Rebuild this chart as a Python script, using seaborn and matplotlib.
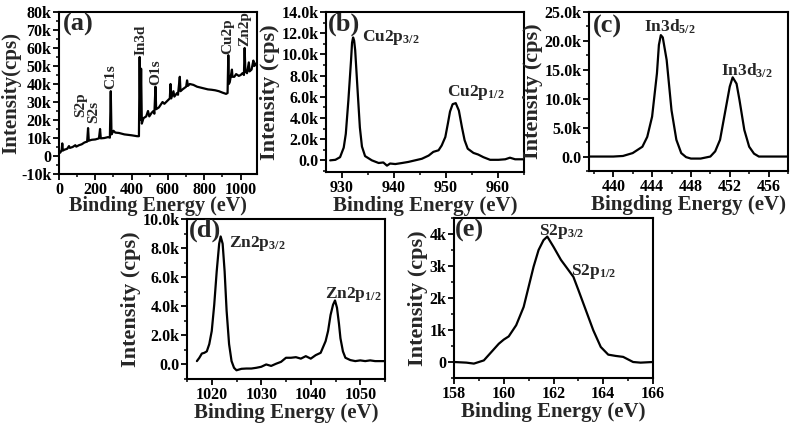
import matplotlib
matplotlib.use('Agg')
import matplotlib.pyplot as plt
from matplotlib.ticker import MultipleLocator, FuncFormatter
import seaborn as sns

# ---- data (intensity in thousands of cps) ----
survey_ev = [0, 8, 15, 18, 21, 30, 45, 55, 60, 75, 90, 95, 110, 125, 140, 155, 160, 164,
             180, 200, 220, 226, 230, 250, 270, 280, 285, 289, 300, 310, 330, 360, 400,
             430, 440, 444, 448, 452, 456, 465, 480, 490, 497, 510, 520, 525, 531, 535,
             550, 570, 580, 600, 610, 614, 618, 630, 635, 650, 655, 665, 669, 680, 700,
             705, 710, 720, 740, 760, 780, 800, 820, 840, 860, 880, 900, 920, 928, 932,
             935, 940, 952, 955, 965, 975, 990, 1000, 1010, 1018, 1022, 1026, 1035, 1045,
             1049, 1060, 1070, 1075, 1085, 1090]
survey_k = [1.5, 2.0, 3.5, 7.0, 3.0, 3.5, 4.0, 5.5, 4.5, 5.0, 6.0, 5.2, 6.0, 6.5, 7.5, 8.0, 15.5, 8.5,
            9.0, 9.2, 9.8, 15.0, 9.8, 10.0, 10.5, 10.2, 36.0, 12.0, 14.0, 13.0, 12.8, 12.0, 11.5,
            11.0, 11.0, 55.0, 20.0, 48.5, 18.0, 21.0, 22.0, 25.0, 22.0, 24.0, 25.0, 23.5, 38.5, 26.0,
            27.0, 30.0, 29.0, 31.0, 32.0, 40.0, 32.0, 36.0, 33.0, 35.0, 34.0, 44.0, 36.0, 37.0, 38.5,
            42.0, 39.0, 40.0, 39.5, 38.5, 38.0, 37.5, 37.0, 36.8, 36.5, 36.0, 35.2, 34.5, 35.0, 56.0,
            40.0, 41.0, 48.0, 44.0, 44.0, 45.5, 44.5, 45.0, 46.0, 45.0, 60.0, 47.0, 46.0, 52.0,
            47.0, 48.0, 53.0, 50.0, 51.5, 50.0]

cu_ev = [927.8, 928.8, 929.7, 930.4, 930.8, 931.3, 931.8, 932.0, 932.2, 932.4, 932.6, 933.1, 933.5,
         933.9, 934.5, 935.8, 937.1, 938.0, 938.7, 939.3, 940.3, 941.6, 942.8, 944.1, 945.4, 946.7,
         947.6, 948.6, 949.2, 949.9, 950.4, 950.8, 951.3, 951.9, 952.5, 953.1, 953.6, 954.2, 955.3,
         956.2, 957.2, 958.5, 960.1, 961.4, 962.3, 963.3, 964.9]
cu_k = [0.0, 0.05, 0.3, 1.2, 2.5, 5.7, 9.4, 11.1, 11.6, 11.3, 10.4, 6.3, 3.1,
        1.3, 0.4, 0.0, -0.25, -0.2, -0.5, -0.3, -0.35, -0.25, -0.15, 0.0, 0.15, 0.45,
        0.8, 0.95, 1.4, 2.2, 3.5, 4.6, 5.3, 5.4, 4.7, 3.1, 1.9, 1.1, 0.7,
        0.55, 0.3, 0.05, 0.05, 0.1, 0.25, 0.1, 0.1]

in_ev = [437.5, 440, 441, 442, 443, 443.5, 444, 444.5, 444.7, 444.9, 445.1, 445.5, 446, 446.5,
         447, 447.5, 448, 449, 450, 450.5, 451, 451.5, 452, 452.3, 452.7, 453, 453.5, 454,
         454.5, 455, 458]
in_k = [0, 0, 0.1, 0.6, 1.7, 3.4, 6.9, 14.4, 19.3, 21.0, 20.6, 16.7, 8.0, 2.9,
        0.6, -0.1, -0.35, -0.35, 0, 0.9, 2.9, 7.5, 12.1, 13.7, 12.6, 9.8, 4.6, 1.7,
        0.5, 0, 0]

zn_ev = [1017, 1017.5, 1018, 1018.5, 1019, 1019.5, 1020, 1020.5, 1021, 1021.5, 1021.8, 1022.2,
         1022.6, 1023, 1023.5, 1024, 1024.5, 1025, 1026, 1027, 1028, 1029, 1030, 1031, 1032,
         1033, 1034, 1035, 1036, 1037, 1038, 1039, 1040, 1041, 1042, 1043, 1043.5, 1044,
         1044.5, 1044.9, 1045.3, 1045.7, 1046, 1046.5, 1047, 1048, 1049, 1050, 1051, 1052,
         1053, 1055]
zn_k = [0.23, 0.46, 0.75, 0.8, 0.9, 1.4, 2.3, 4.1, 6.4, 8.3, 8.8, 8.3,
        6.4, 3.7, 1.4, 0.23, -0.23, -0.4, -0.3, -0.28, -0.28, -0.23, -0.16, 0.0, -0.1,
        0.05, 0.18, 0.46, 0.46, 0.5, 0.4, 0.57, 0.4, 0.64, 0.8, 1.6, 2.3, 3.4,
        4.1, 4.4, 3.9, 2.8, 1.8, 0.9, 0.46, 0.3, 0.23, 0.28, 0.23, 0.28,
        0.23, 0.23]

s_ev = [158, 158.5, 158.8, 159.2, 159.5, 159.8, 160, 160.2, 160.5, 160.8, 161, 161.2, 161.4,
        161.6, 161.75, 162, 162.3, 162.5, 162.8, 163, 163.3, 163.6, 163.9, 164.2, 164.5,
        164.8, 165.2, 165.5, 166]
s_k = [0, -0.02, -0.05, 0.05, 0.31, 0.57, 0.7, 0.8, 1.15, 1.72, 2.35, 2.98, 3.5,
       3.81, 3.92, 3.6, 3.19, 2.98, 2.66, 2.25, 1.62, 0.99, 0.47, 0.23, 0.19,
       0.16, 0.0, -0.02, 0]

W, H = 792, 426
FONT = 'Liberation Serif'

sns.set_style('ticks')
plt.rcParams.update({
    'font.family': FONT,
    'font.weight': 'bold',
    'axes.labelweight': 'bold',
    'mathtext.fontset': 'custom',
    'mathtext.rm': FONT + ':bold',
    'mathtext.bf': FONT + ':bold',
    'mathtext.default': 'rm',
    'axes.linewidth': 1.5,
    'axes.edgecolor': 'black',
    'xtick.color': 'black',
    'ytick.color': 'black',
})


def fmt_int(v, pos):
    return '0' if abs(v) < 1e-9 else f'{v:g}k'


def fmt_dec(v, pos):
    return '0.0' if abs(v) < 1e-9 else f'{v:.1f}k'


def add_panel(fig, box, x, y, xlim, ylim, xmaj, xmin, ymaj, ymin, fmt, xlabel, ylabel):
    l, t, r, b = box
    ax = fig.add_axes([l / W, 1 - b / H, (r - l) / W, (b - t) / H])
    sns.lineplot(x=x, y=y, ax=ax, color='black', linewidth=1.6,
                 estimator=None, errorbar=None, sort=False)
    ax.set_xlim(*xlim)
    ax.set_ylim(*ylim)
    ax.xaxis.set_major_locator(MultipleLocator(xmaj))
    ax.xaxis.set_minor_locator(MultipleLocator(xmin))
    ax.yaxis.set_major_locator(MultipleLocator(ymaj))
    ax.yaxis.set_minor_locator(MultipleLocator(ymin))
    ax.yaxis.set_major_formatter(FuncFormatter(fmt))
    ax.tick_params(which='major', direction='out', length=4, width=1.3, labelsize=11.5, pad=1.5)
    ax.tick_params(which='minor', direction='out', length=2.5, width=1.1)
    ax.set_xlabel(xlabel, fontsize=15, labelpad=0)
    ax.set_ylabel(ylabel, fontsize=16, labelpad=1)
    for s in ax.spines.values():
        s.set_visible(True)
        s.set_linewidth(1.5)
    return ax


fig = plt.figure(figsize=(W / 100, H / 100), dpi=100)

# (a) survey
ax = add_panel(fig, (59, 12, 257, 174), survey_ev, survey_k, (0, 1090), (-10, 80),
               200, 100, 10, 5, fmt_int, 'Binding Energy (eV)', 'Intensity(cps)')
ax.yaxis.label.set_fontsize(15)
ax.yaxis.set_label_coords(-0.19, 0.5)
ax.xaxis.label.set_fontsize(14.5)
ax.xaxis.labelpad = -1
ax.text(22, 79.5, '(a)', fontsize=19, va='top', ha='left')
for lab, xv, yv in [('S2p', 120, 21.5), ('S2s', 192, 18.5), ('C1s', 287, 37.0),
                    ('In3d', 452, 56.0), ('O1s', 535, 39.5), ('Cu2p', 930, 56.5),
                    ('Zn2p', 1020, 61.0)]:
    ax.text(xv, yv, lab, rotation=90, fontsize=11, ha='center', va='bottom')

# (b) Cu 2p
ax = add_panel(fig, (326, 12, 524, 172), cu_ev, cu_k, (927, 965), (-1.1, 14),
               10, 5, 2, 1, fmt_dec, 'Binding Energy (eV)', 'Intensity (cps)')
ax.text(927.4, 13.9, '(b)', fontsize=19, va='top', ha='left')
ax.text(933.9, 11.6, 'Cu2p$_{3/2}$', fontsize=12.5, va='center', ha='left')
ax.text(950.2, 6.4, 'Cu2p$_{1/2}$', fontsize=12.5, va='center', ha='left')

# (c) In 3d
ax = add_panel(fig, (589, 12, 788, 171), in_ev, in_k, (437.5, 458), (-2.5, 25),
               4, 2, 5, 2.5, fmt_dec, 'Bingding Energy (eV)', 'Intensity (cps)')
ax.text(437.9, 24.5, '(c)', fontsize=19, va='top', ha='left')
ax.text(443.2, 22.4, 'In3d$_{5/2}$', fontsize=12.5, va='center', ha='left')
ax.text(451.1, 14.9, 'In3d$_{3/2}$', fontsize=12.5, va='center', ha='left')

# (d) Zn 2p
ax = add_panel(fig, (187, 219, 385, 379), zn_ev, zn_k, (1015, 1055), (-1, 10),
               10, 5, 2, 1, fmt_dec, 'Binding Energy (eV)', 'Intensity (cps)')
ax.text(1015.3, 10.0, '(d)', fontsize=19, va='top', ha='left')
ax.text(1023.4, 8.3, 'Zn2p$_{3/2}$', fontsize=12.5, va='center', ha='left')
ax.text(1042.8, 4.8, 'Zn2p$_{1/2}$', fontsize=12.5, va='center', ha='left')

# (e) S 2p
ax = add_panel(fig, (454, 218, 653, 378), s_ev, s_k, (158, 166), (-0.5, 4.5),
               2, 1, 1, 0.5, fmt_int, 'Binding Energy (eV)', 'Intensity (cps)')
ax.text(158.05, 4.48, '(e)', fontsize=19, va='top', ha='left')
ax.text(161.4, 4.08, 'S2p$_{3/2}$', fontsize=12.5, va='center', ha='left')
ax.text(162.7, 2.82, 'S2p$_{1/2}$', fontsize=12.5, va='center', ha='left')

fig.savefig('out.png', dpi=100)
